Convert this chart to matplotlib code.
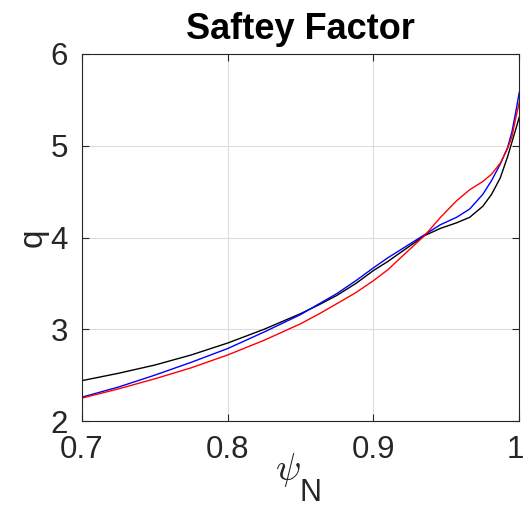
import matplotlib
matplotlib.use("Agg")
import matplotlib.pyplot as plt
from matplotlib.transforms import ScaledTranslation

# values
psi = [0.70, 0.725, 0.75, 0.775, 0.80, 0.825, 0.85, 0.863, 0.875, 0.888, 0.90,
       0.91, 0.918, 0.935, 0.946, 0.957, 0.966, 0.975, 0.981, 0.987, 0.992,
       0.995, 0.998, 1.00]
q_black = [2.44, 2.52, 2.61, 2.72, 2.85, 3.00, 3.17, 3.27, 3.37, 3.50, 3.64,
           3.74, 3.83, 4.02, 4.10, 4.16, 4.22, 4.34, 4.47, 4.65, 4.88, 5.04,
           5.20, 5.31]
q_blue = [2.26, 2.37, 2.50, 2.64, 2.79, 2.97, 3.16, 3.28, 3.39, 3.53, 3.67,
          3.78, 3.86, 4.03, 4.14, 4.22, 4.31, 4.47, 4.62, 4.80, 4.98, 5.15,
          5.40, 5.58]
q_red = [2.25, 2.35, 2.46, 2.58, 2.72, 2.88, 3.06, 3.17, 3.28, 3.40, 3.53,
         3.65, 3.77, 4.02, 4.22, 4.40, 4.52, 4.61, 4.69, 4.81, 4.97, 5.10,
         5.33, 5.47]

xticks = [0.7, 0.8, 0.9, 1.0]
xticklabels = ["0.7", "0.8", "0.9", "1"]
yticks = [2, 3, 4, 5, 6]

plt.rcParams["font.family"] = ["Liberation Sans", "DejaVu Sans"]
plt.rcParams["mathtext.fontset"] = "cm"

fig = plt.figure(figsize=(5.25, 5.32), dpi=100)
ax = fig.add_axes([0.156, 0.2086, 0.833, 0.6899])

ax.plot(psi, q_black, color="black", lw=1.0)
ax.plot(psi, q_blue, color="blue", lw=1.0)
ax.plot(psi, q_red, color="red", lw=1.0)

ax.set_xlim(0.7, 1.0)
ax.set_ylim(2, 6)
ax.set_xticks(xticks)
ax.set_xticklabels(xticklabels)
ax.set_yticks(yticks)
ax.grid(True, color="#dcdcdc", lw=0.8)
ax.set_axisbelow(True)
ax.tick_params(direction="in", length=5, width=0.8, labelsize=22.5,
               top=True, right=True, colors="#262626", labelcolor="#262626")
ax.tick_params(axis="x", pad=10)
ax.tick_params(axis="y", pad=10)
for s in ax.spines.values():
    s.set_color("#262626")
    s.set_linewidth(0.8)

# nudge the last x label so it stays inside the figure
last = ax.get_xticklabels()[-1]
last.set_transform(last.get_transform() + ScaledTranslation(-4 / 100, 0, fig.dpi_scale_trans))

ax.set_title("Saftey Factor", fontsize=26, fontweight="bold", pad=11)
ax.set_xlabel(r"$\psi$", fontsize=27, color="#262626", labelpad=-10)
ax.xaxis.label.set_x(0.472)
# big subscript N, as matlab draws it
ax.annotate("N", xy=(1, 0), xycoords=ax.xaxis.label, xytext=(-1, 8),
            textcoords="offset points", ha="left", va="top",
            fontsize=22, color="#262626")
ax.set_ylabel("q", fontsize=24, color="#262626", labelpad=1)

fig.savefig("out.png", dpi=100)
